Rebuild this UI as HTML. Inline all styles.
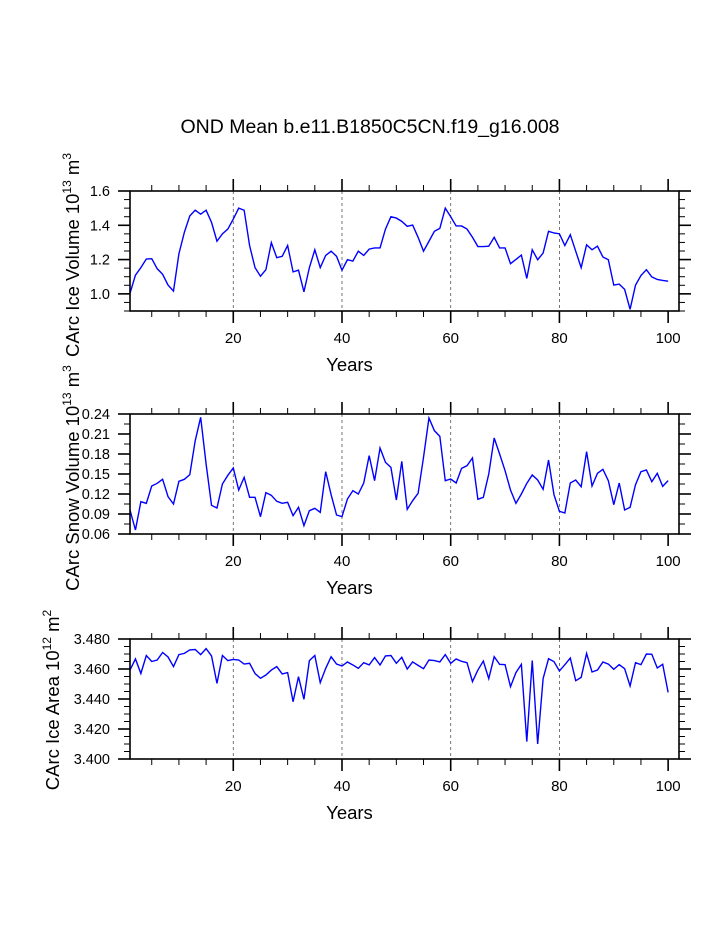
<!DOCTYPE html>
<html><head><meta charset="utf-8"><style>
html,body{margin:0;padding:0;background:#fff;}
svg text{font-family:"Liberation Sans",Arial,sans-serif;fill:#000;}
</style></head><body>
<svg id="chart" width="723" height="935" viewBox="0 0 723 935" xmlns="http://www.w3.org/2000/svg">
<text x="370" y="133" font-size="19.5" text-anchor="middle">OND Mean b.e11.B1850C5CN.f19_g16.008</text>
</svg>
<script>
const years = Array.from({length:100},(_,i)=>i+1);
const iceVolume = [1.003,1.109,1.153,1.203,1.205,1.147,1.114,1.051,1.016,1.234,1.359,1.455,1.488,1.465,1.488,1.417,1.307,1.35,1.378,1.436,1.5,1.488,1.282,1.153,1.103,1.141,1.299,1.211,1.219,1.282,1.128,1.138,1.012,1.153,1.257,1.153,1.224,1.249,1.219,1.138,1.199,1.191,1.249,1.224,1.261,1.268,1.268,1.378,1.45,1.442,1.423,1.394,1.401,1.33,1.249,1.307,1.365,1.382,1.5,1.45,1.396,1.396,1.378,1.33,1.276,1.276,1.278,1.33,1.268,1.268,1.176,1.201,1.226,1.09,1.257,1.199,1.238,1.365,1.355,1.35,1.282,1.345,1.249,1.153,1.286,1.257,1.278,1.215,1.199,1.051,1.057,1.026,0.91,1.051,1.107,1.141,1.099,1.084,1.078,1.074];
const snowVolume = [0.096,0.066,0.1085,0.106,0.132,0.136,0.142,0.116,0.105,0.139,0.142,0.149,0.2,0.235,0.165,0.103,0.099,0.135,0.148,0.159,0.126,0.145,0.115,0.115,0.086,0.122,0.118,0.109,0.106,0.1075,0.0875,0.1,0.0725,0.095,0.0985,0.0925,0.1535,0.119,0.0885,0.086,0.1125,0.125,0.12,0.1365,0.1775,0.14,0.189,0.1675,0.16,0.111,0.169,0.097,0.11,0.121,0.175,0.234,0.215,0.2065,0.14,0.1425,0.1365,0.1585,0.1625,0.174,0.112,0.115,0.15,0.204,0.18,0.155,0.126,0.106,0.12,0.136,0.1485,0.141,0.127,0.171,0.119,0.094,0.0915,0.1365,0.141,0.131,0.1835,0.132,0.151,0.157,0.14,0.104,0.1365,0.096,0.1,0.134,0.1535,0.156,0.1385,0.151,0.1315,0.14];
const iceArea = [3.4593,3.4667,3.457,3.469,3.465,3.466,3.471,3.468,3.4616,3.4696,3.4704,3.4727,3.473,3.4696,3.4736,3.4687,3.4504,3.469,3.4656,3.4664,3.466,3.4633,3.4638,3.457,3.4538,3.456,3.4593,3.4616,3.4567,3.4576,3.4382,3.4549,3.4398,3.4656,3.469,3.4509,3.4604,3.4682,3.4633,3.462,3.4647,3.4627,3.4604,3.4642,3.4627,3.4676,3.4627,3.4687,3.469,3.4638,3.4678,3.46,3.4647,3.4624,3.4602,3.466,3.4656,3.4647,3.4696,3.4638,3.4667,3.4651,3.4642,3.4516,3.4593,3.4653,3.4536,3.4682,3.4631,3.4629,3.4482,3.4576,3.4631,3.4116,3.4656,3.41,3.4536,3.4669,3.4649,3.4587,3.4629,3.4673,3.4522,3.4544,3.4704,3.458,3.4593,3.4647,3.4633,3.4598,3.4629,3.4602,3.4487,3.4642,3.4629,3.47,3.4698,3.4607,3.4631,3.4444];
const xTicks = [20,40,60,80,100];
const ticks1 = ["1.0","1.2","1.4","1.6"];
const ticks2 = ["0.06","0.09","0.12","0.15","0.18","0.21","0.24"];
const ticks3 = ["3.400","3.420","3.440","3.460","3.480"];

const NS="http://www.w3.org/2000/svg";
const svg=document.getElementById('chart');
function mk(tag,attrs,parent){const e=document.createElementNS(NS,tag);for(const k in attrs)e.setAttribute(k,attrs[k]);(parent||svg).appendChild(e);return e;}

function panel(opt){
  const L=130,R=679,T=opt.top,B=opt.top+120;
  const X0=1,X1=102;
  const sx=v=>L+(v-X0)/(X1-X0)*(R-L);
  const sy=v=>B-(v-opt.ymin)/(opt.ymax-opt.ymin)*(B-T);
  const g=mk('g',{});
  
  
  [20,40,60,80].forEach(v=>{
    const l=mk('line',{x1:sx(v),x2:sx(v),y1:T,y2:B,stroke:'#555','stroke-width':0.8,'stroke-dasharray':'3,3'},g);
    
    
  });
  for(let v=5;v<=100;v+=5){
    const major=v%20===0;const len=major?12:6;
    mk('line',{x1:sx(v),x2:sx(v),y1:B,y2:B+len,stroke:'#000','stroke-width':major?1.6:1},g);
    mk('line',{x1:sx(v),x2:sx(v),y1:T,y2:T-len,stroke:'#000','stroke-width':major?1.6:1},g);
  }
  xTicks.forEach(v=>{
    const t=mk('text',{x:sx(v),y:B+32,'font-size':15,'text-anchor':'middle'},g);
    t.textContent=v;
    
    
  });
  opt.labels.forEach(s=>{
    const v=parseFloat(s);const y=sy(v);
    mk('line',{x1:L,x2:L-12,y1:y,y2:y,stroke:'#000','stroke-width':1.6},g);
    mk('line',{x1:R,x2:R+12,y1:y,y2:y,stroke:'#000','stroke-width':1.6},g);
    const t=mk('text',{x:L-20,y:y+5,'font-size':14.5,'text-anchor':'end'},g);
    t.textContent=s;
    
    
  });
  for(let v=opt.ymin;v<=opt.ymax+1e-9;v+=opt.minor){
    const y=sy(v);
    mk('line',{x1:L,x2:L-6,y1:y,y2:y,stroke:'#000','stroke-width':1},g);
    mk('line',{x1:R,x2:R+6,y1:y,y2:y,stroke:'#000','stroke-width':1},g);
  }
  const pts=years.map((yr,i)=>sx(yr).toFixed(2)+','+sy(opt.data[i]).toFixed(2)).join(' ');
  const pl=mk('polyline',{points:pts,fill:'none',stroke:'#0000ff','stroke-width':1.4},g);
  
  
  const fr=mk('rect',{x:L,y:T,width:R-L,height:B-T,fill:'none',stroke:'#000','stroke-width':1.6},g);
  
  
  const xt=mk('text',{x:(L+R)/2-55,y:B+60,'font-size':18.5,'text-anchor':'middle'},g);
  xt.textContent='Years';
  
  
  const yt=mk('text',{x:0,y:0,'font-size':18.5,'text-anchor':'middle',transform:`translate(${opt.titleX},${opt.titleY}) rotate(-90)`},g);
  
  
  yt.appendChild(document.createTextNode(opt.title+' 10'));
  const s1=mk('tspan',{'font-size':12,dy:-8},yt);s1.textContent=opt.exp;
  const s2=mk('tspan',{dy:8},yt);s2.textContent=' m';
  const s3=mk('tspan',{'font-size':12,dy:-8},yt);s3.textContent=opt.unitExp;
}
panel({name:'ice-volume-panel',top:191,ymin:0.9,ymax:1.6,minor:0.05,labels:ticks1,data:iceVolume,title:'CArc Ice Volume',exp:'13',unitExp:'3',titleX:79,titleY:255});
panel({name:'snow-volume-panel',top:414,ymin:0.06,ymax:0.24,minor:0.015,labels:ticks2,data:snowVolume,title:'CArc Snow Volume',exp:'13',unitExp:'3',titleX:79,titleY:478});
panel({name:'ice-area-panel',top:639,ymin:3.40,ymax:3.48,minor:0.005,labels:ticks3,data:iceArea,title:'CArc Ice Area',exp:'12',unitExp:'2',titleX:59,titleY:700});
</script>
</body></html>
